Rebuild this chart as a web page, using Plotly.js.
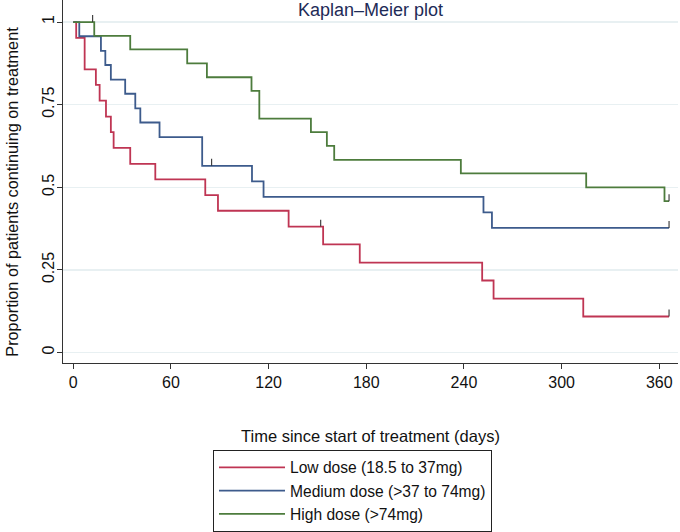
<!DOCTYPE html>
<html>
<head>
<meta charset="utf-8">
<script src="https://cdn.plot.ly/plotly-3.0.1.min.js"></script>
<style>html,body{margin:0;padding:0;background:#fff;}#chart{width:680px;height:532px;}</style>
</head>
<body>
<div id="chart"></div>
<script>
// Kaplan–Meier estimates
const groupNames = ["Low dose (18.5 to 37mg)", "Medium dose (>37 to 74mg)", "High dose (>74mg)"];

const lowTime = [0, 1.8, 7, 13.9, 16.2, 20.1, 23.1, 24.8, 35, 50.4, 81.1, 88.9, 132.3, 153.5, 176, 251.2, 258.2, 313.3, 366];
const lowSurv = [1, 0.952, 0.857, 0.810, 0.762, 0.714, 0.667, 0.619, 0.571, 0.524, 0.476, 0.429, 0.381, 0.327, 0.272, 0.218, 0.163, 0.109, 0.109];
const lowCensorTime = [152, 366];
const lowCensorSurv = [0.381, 0.109];

const medTime = [0, 3.7, 17, 19.7, 23.1, 31.9, 38.1, 41.2, 53, 79.2, 109.8, 116.9, 252, 257.2, 366];
const medSurv = [1, 0.957, 0.913, 0.870, 0.826, 0.783, 0.739, 0.696, 0.652, 0.565, 0.518, 0.471, 0.424, 0.377, 0.377];
const medCensorTime = [85, 366];
const medCensorSurv = [0.565, 0.377];

const highTime = [0, 12.9, 35, 70, 82.1, 109.5, 114.3, 146, 155.8, 160.3, 238.1, 315.1, 363.2, 366];
const highSurv = [1, 0.958, 0.917, 0.875, 0.833, 0.792, 0.708, 0.667, 0.625, 0.583, 0.542, 0.5, 0.458, 0.458];
const highCensorTime = [11.9, 366];
const highCensorSurv = [1, 0.458];

const xTicks = [0, 60, 120, 180, 240, 300, 360];
const yTicks = [0, 0.25, 0.5, 0.75, 1];
const yTickText = ["0", "0.25", "0.5", "0.75", "1"];

// styles
const colors = ["#bf3553", "#3d5b8c", "#4d7c3d"];
const censorH = 0.021;
const font = "Liberation Sans, Arial, sans-serif";

function censorSegments(ts, ss) {
  const x = [], y = [];
  ts.forEach((t, i) => { x.push(t, t, null); y.push(ss[i], ss[i] + censorH, null); });
  return {x, y};
}

const series = [
  [lowTime, lowSurv, lowCensorTime, lowCensorSurv],
  [medTime, medSurv, medCensorTime, medCensorSurv],
  [highTime, highSurv, highCensorTime, highCensorSurv]
];

const traces = [];
series.forEach((s, i) => {
  traces.push({
    type: "scatter", mode: "lines", name: groupNames[i],
    x: s[0], y: s[1],
    line: {shape: "hv", color: colors[i], width: 1.8},
    hoverinfo: "skip"
  });
});
series.forEach((s, i) => {
  const seg = censorSegments(s[2], s[3]);
  traces.push({
    type: "scatter", mode: "lines", showlegend: false,
    x: seg.x, y: seg.y,
    line: {color: "#333333", width: 1.1},
    hoverinfo: "skip"
  });
});

const layout = {
  width: 680, height: 532,
  margin: {l: 63, r: 2, t: 0, b: 165},
  paper_bgcolor: "#ffffff", plot_bgcolor: "#ffffff",
  font: {family: font, color: "#111111", size: 16},
  title: {text: "Kaplan–Meier plot", font: {family: font, size: 18, color: "#1e2b57"},
          x: 0.5, xref: "paper", y: 1 - 3 / 532, yref: "container", yanchor: "top",
          pad: {t: 0, b: 0, l: 0, r: 0}},
  xaxis: {
    range: [-6.3, 371.5], tickvals: xTicks, ticktext: xTicks.map(String),
    showgrid: false, zeroline: false, showline: true, linecolor: "#333333", linewidth: 1,
    ticks: "outside", ticklen: 5, tickcolor: "#333333", tickfont: {size: 16}
  },
  yaxis: {
    range: [-0.0317, 1.0667], tickvals: yTicks, ticktext: yTickText, tickangle: -90,
    showgrid: true, gridcolor: "#e8f0f2", gridwidth: 1.5, zeroline: false,
    showline: true, linecolor: "#333333", linewidth: 1,
    ticks: "outside", ticklen: 5, tickcolor: "#333333", tickfont: {size: 16},
    ticklabelstandoff: -3
  },
  annotations: [{
    text: "Proportion of patients continuing on treatment", textangle: -90,
    xref: "paper", yref: "paper", x: (12 - 63) / 615, y: (367.3 - 194) / 367.3,
    xanchor: "center", yanchor: "middle", showarrow: false,
    font: {family: font, size: 16.3, color: "#111111"}
  }, {
    text: "Time since start of treatment (days)",
    xref: "paper", yref: "paper", x: 0.5, y: (367.3 - 441) / 367.3,
    xanchor: "center", yanchor: "middle", showarrow: false,
    font: {family: font, size: 16.5, color: "#111111"}
  }],
  showlegend: true,
  legend: {
    x: (213 - 63) / 615, y: (367.3 - 455) / 367.3, xanchor: "left", yanchor: "top",
    bgcolor: "#ffffff", bordercolor: "#222222", borderwidth: 1,
    font: {family: font, size: 15.6, color: "#111111"}, itemwidth: 66, traceorder: "normal"
  }
};

Plotly.newPlot("chart", traces, layout, {staticPlot: true, displayModeBar: false});
</script>
</body>
</html>
